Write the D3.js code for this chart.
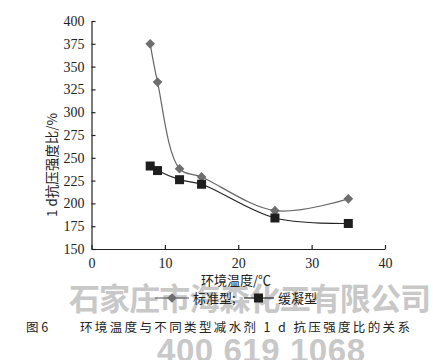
<!DOCTYPE html>
<html><head><meta charset="utf-8">
<script src="https://cdn.jsdelivr.net/npm/d3@7"></script>
<style>body{margin:0;background:#fff}svg{display:block}</style>
</head><body>
<svg id="c" width="433" height="360"></svg>
<script>
const temps = [8, 9, 12, 15, 25, 35];
const standardVals = [375, 333, 238, 229, 192, 205];
const retardVals = [241, 236, 226, 221, 184, 178];
const xTicks = [0, 10, 20, 30, 40];
const yTicks = [150, 175, 200, 225, 250, 275, 300, 325, 350, 375, 400];
const seriesNames = ["标准型;", "缓凝型"];

const svg = d3.select("#c");
const x = d3.scaleLinear().domain([0, 40]).range([91.5, 385]);
const y = d3.scaleLinear().domain([150, 400]).range([249, 21]);
const serif = "'Liberation Serif','DejaVu Serif',serif";
const cjk = "'Noto Sans CJK SC',sans-serif";

// watermark
svg.append("text").attr("x", 250).attr("y", 310).attr("text-anchor", "middle")
  .attr("font-family", cjk).attr("font-weight", "bold").attr("font-size", 31)
  .attr("fill", "#c8c8c8").attr("textLength", 362).text("石家庄市海森化工有限公司");
svg.append("text").attr("x", 261).attr("y", 362).attr("text-anchor", "middle")
  .attr("font-family", "'Liberation Sans',Arial,sans-serif").attr("font-weight", "bold").attr("font-size", 33)
  .attr("fill", "#c8c8c8").attr("textLength", 208).text("400 619 1068");

const xAxis = d3.axisBottom(x).tickValues(xTicks).tickSizeInner(-4).tickSizeOuter(0).tickPadding(7);
const yAxis = d3.axisLeft(y).tickValues(yTicks).tickSizeInner(-4).tickSizeOuter(0).tickPadding(7);
const gx = svg.append("g").attr("transform", `translate(0,${y(150)})`).call(xAxis);
const gy = svg.append("g").attr("transform", `translate(${x(0)},0)`).call(yAxis);
[gx, gy].forEach(g => {
  g.selectAll("path,line").attr("stroke", "#222").attr("stroke-width", 1.2);
  g.selectAll("text").attr("font-family", serif).attr("font-size", 14).attr("fill", "#222");
});
gx.selectAll("text").attr("dy", "0.85em");

const line = d3.line().x(d => x(d[0])).y(d => y(d[1])).curve(d3.curveCatmullRom.alpha(0.5));
const sData = temps.map((t, i) => [t, standardVals[i]]);
const rData = temps.map((t, i) => [t, retardVals[i]]);

svg.append("path").datum(sData).attr("d", line).attr("fill", "none").attr("stroke", "#666").attr("stroke-width", 1.2);
svg.append("path").datum(rData).attr("d", line).attr("fill", "none").attr("stroke", "#222").attr("stroke-width", 1.2);

const diamond = d3.symbol().type(d3.symbolDiamond2).size(60);
svg.selectAll(".dm").data(sData).join("path").attr("class", "dm")
  .attr("transform", d => `translate(${x(d[0])},${y(d[1])})`)
  .attr("d", diamond).attr("fill", "#6e6e6e");
svg.selectAll(".sq").data(rData).join("rect").attr("class", "sq")
  .attr("x", d => x(d[0]) - 4.5).attr("y", d => y(d[1]) - 4.5)
  .attr("width", 9).attr("height", 9).attr("fill", "#1e1e1e");

// axis titles
svg.append("text").attr("x", 236).attr("y", 285).attr("text-anchor", "middle")
  .attr("font-family", cjk).attr("font-size", 13).attr("fill", "#222").text("环境温度/℃");
svg.append("text").attr("transform", "translate(57,165) rotate(-90)").attr("text-anchor", "middle")
  .attr("font-family", cjk).attr("font-size", 13.5).attr("fill", "#222").text("1 d抗压强度比/%");

// legend
const lg = svg.append("g");
lg.append("line").attr("x1", 155).attr("x2", 189).attr("y1", 298).attr("y2", 298).attr("stroke", "#555").attr("stroke-width", 1.2);
lg.append("path").attr("transform", "translate(172,298)").attr("d", diamond).attr("fill", "#6e6e6e");
lg.append("text").attr("x", 193).attr("y", 303).attr("font-family", cjk).attr("font-size", 13).attr("fill", "#222").text(seriesNames[0]);
lg.append("line").attr("x1", 244).attr("x2", 274).attr("y1", 298).attr("y2", 298).attr("stroke", "#222").attr("stroke-width", 1.2);
lg.append("rect").attr("x", 254).attr("y", 293.5).attr("width", 9).attr("height", 9).attr("fill", "#1e1e1e");
lg.append("text").attr("x", 278).attr("y", 303).attr("font-family", cjk).attr("font-size", 13).attr("fill", "#222").text(seriesNames[1]);

// caption
svg.append("text").attr("x", 26).attr("y", 332).attr("font-family", cjk).attr("font-size", 12.5)
  .attr("fill", "#222").text("图 6");
svg.append("text").attr("x", 80).attr("y", 332).attr("font-family", cjk).attr("font-size", 12.5)
  .attr("fill", "#222").attr("textLength", 330).text("环境温度与不同类型减水剂 1 d 抗压强度比的关系");
</script>
</body></html>
